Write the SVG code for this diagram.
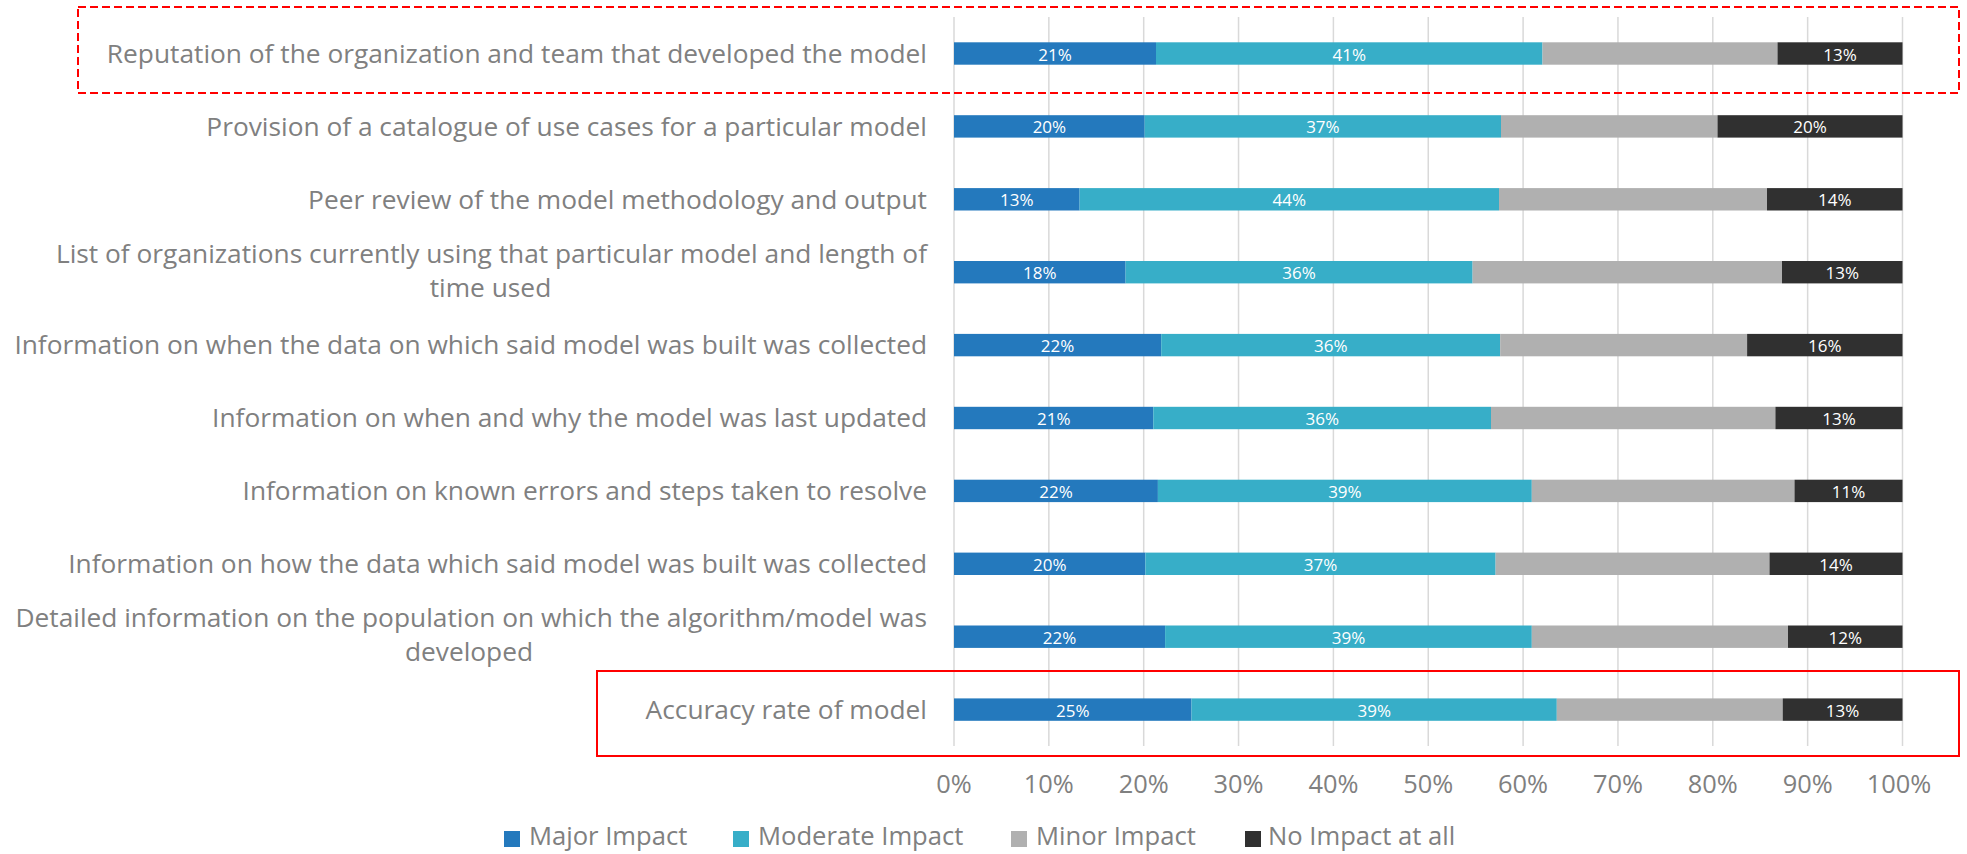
<svg xmlns="http://www.w3.org/2000/svg" width="1967" height="854" viewBox="0 0 1967 854">
<style>
.cat{font-family:"Open Sans","Liberation Sans",sans-serif;font-size:26.3px;fill:#808080;text-anchor:end}
.catm{font-family:"Open Sans","Liberation Sans",sans-serif;font-size:26.3px;fill:#808080;text-anchor:middle}
.ax{font-family:"Open Sans","Liberation Sans",sans-serif;font-size:25.4px;fill:#808080;text-anchor:middle}
.lg{font-family:"Open Sans","Liberation Sans",sans-serif;font-size:25.6px;fill:#808080}
.v{font-family:"Open Sans","Liberation Sans",sans-serif;font-size:17px;fill:#ffffff;text-anchor:middle}
.g{stroke:#d9d9d9;stroke-width:1.5}
.c1{fill:#2479bd}.c2{fill:#37aec8}.c3{fill:#b0b0b0}.c4{fill:#303030}
</style>
<rect width="1967" height="854" fill="#ffffff"/>
<g id="grid">
<line class="g" x1="954" y1="17" x2="954" y2="746"/>
<line class="g" x1="1048.85" y1="17" x2="1048.85" y2="746"/>
<line class="g" x1="1143.7" y1="17" x2="1143.7" y2="746"/>
<line class="g" x1="1238.55" y1="17" x2="1238.55" y2="746"/>
<line class="g" x1="1333.4" y1="17" x2="1333.4" y2="746"/>
<line class="g" x1="1428.25" y1="17" x2="1428.25" y2="746"/>
<line class="g" x1="1523.1" y1="17" x2="1523.1" y2="746"/>
<line class="g" x1="1617.95" y1="17" x2="1617.95" y2="746"/>
<line class="g" x1="1712.8" y1="17" x2="1712.8" y2="746"/>
<line class="g" x1="1807.65" y1="17" x2="1807.65" y2="746"/>
<line class="g" x1="1902.5" y1="17" x2="1902.5" y2="746"/>
</g>
<g id="axis">
<text class="ax" x="954" y="793">0%</text>
<text class="ax" x="1048.85" y="793">10%</text>
<text class="ax" x="1143.7" y="793">20%</text>
<text class="ax" x="1238.55" y="793">30%</text>
<text class="ax" x="1333.4" y="793">40%</text>
<text class="ax" x="1428.25" y="793">50%</text>
<text class="ax" x="1523.1" y="793">60%</text>
<text class="ax" x="1617.95" y="793">70%</text>
<text class="ax" x="1712.8" y="793">80%</text>
<text class="ax" x="1807.65" y="793">90%</text>
<text class="ax" x="1899" y="793">100%</text>
</g>
<g id="row1">
<text class="cat" x="927" y="62.8">Reputation of the organization and team that developed the model</text>
<rect class="c1" x="954" y="42.3" width="202" height="22.4"/>
<rect class="c2" x="1156" y="42.3" width="386.5" height="22.4"/>
<rect class="c3" x="1542.5" y="42.3" width="235" height="22.4"/>
<rect class="c4" x="1777.5" y="42.3" width="125" height="22.4"/>
<text class="v" x="1055" y="60.5">21%</text>
<text class="v" x="1349.2" y="60.5">41%</text>
<text class="v" x="1840" y="60.5">13%</text>
</g>
<g id="row2">
<text class="cat" x="927" y="135.7">Provision of a catalogue of use cases for a particular model</text>
<rect class="c1" x="954" y="115.2" width="190.7" height="22.4"/>
<rect class="c2" x="1144.7" y="115.2" width="356.3" height="22.4"/>
<rect class="c3" x="1501" y="115.2" width="216.5" height="22.4"/>
<rect class="c4" x="1717.5" y="115.2" width="185" height="22.4"/>
<text class="v" x="1049.4" y="133.4">20%</text>
<text class="v" x="1322.9" y="133.4">37%</text>
<text class="v" x="1810" y="133.4">20%</text>
</g>
<g id="row3">
<text class="cat" x="927" y="208.6">Peer review of the model methodology and output</text>
<rect class="c1" x="954" y="188.1" width="125.6" height="22.4"/>
<rect class="c2" x="1079.6" y="188.1" width="419.4" height="22.4"/>
<rect class="c3" x="1499" y="188.1" width="268" height="22.4"/>
<rect class="c4" x="1767" y="188.1" width="135.5" height="22.4"/>
<text class="v" x="1016.8" y="206.3">13%</text>
<text class="v" x="1289.3" y="206.3">44%</text>
<text class="v" x="1834.8" y="206.3">14%</text>
</g>
<g id="row4">
<text class="cat" x="927" y="262.5">List of organizations currently using that particular model and length of</text>
<text class="catm" x="490.5" y="296.9">time used</text>
<rect class="c1" x="954" y="261" width="171.6" height="22.4"/>
<rect class="c2" x="1125.6" y="261" width="347" height="22.4"/>
<rect class="c3" x="1472.6" y="261" width="309.4" height="22.4"/>
<rect class="c4" x="1782" y="261" width="120.5" height="22.4"/>
<text class="v" x="1039.8" y="279.2">18%</text>
<text class="v" x="1299.1" y="279.2">36%</text>
<text class="v" x="1842.3" y="279.2">13%</text>
</g>
<g id="row5">
<text class="cat" x="927" y="354.4">Information on when the data on which said model was built was collected</text>
<rect class="c1" x="954" y="333.9" width="207.2" height="22.4"/>
<rect class="c2" x="1161.2" y="333.9" width="339" height="22.4"/>
<rect class="c3" x="1500.2" y="333.9" width="246.9" height="22.4"/>
<rect class="c4" x="1747.1" y="333.9" width="155.4" height="22.4"/>
<text class="v" x="1057.6" y="352.1">22%</text>
<text class="v" x="1330.7" y="352.1">36%</text>
<text class="v" x="1824.8" y="352.1">16%</text>
</g>
<g id="row6">
<text class="cat" x="927" y="427.3">Information on when and why the model was last updated</text>
<rect class="c1" x="954" y="406.8" width="199.3" height="22.4"/>
<rect class="c2" x="1153.3" y="406.8" width="337.7" height="22.4"/>
<rect class="c3" x="1491" y="406.8" width="284.4" height="22.4"/>
<rect class="c4" x="1775.4" y="406.8" width="127.1" height="22.4"/>
<text class="v" x="1053.7" y="425">21%</text>
<text class="v" x="1322.2" y="425">36%</text>
<text class="v" x="1839" y="425">13%</text>
</g>
<g id="row7">
<text class="cat" x="927" y="500.2">Information on known errors and steps taken to resolve</text>
<rect class="c1" x="954" y="479.7" width="203.9" height="22.4"/>
<rect class="c2" x="1157.9" y="479.7" width="373.9" height="22.4"/>
<rect class="c3" x="1531.8" y="479.7" width="262.7" height="22.4"/>
<rect class="c4" x="1794.5" y="479.7" width="108" height="22.4"/>
<text class="v" x="1056" y="497.9">22%</text>
<text class="v" x="1344.9" y="497.9">39%</text>
<text class="v" x="1848.5" y="497.9">11%</text>
</g>
<g id="row8">
<text class="cat" x="927" y="573.1">Information on how the data which said model was built was collected</text>
<rect class="c1" x="954" y="552.6" width="191.4" height="22.4"/>
<rect class="c2" x="1145.4" y="552.6" width="350.2" height="22.4"/>
<rect class="c3" x="1495.6" y="552.6" width="273.9" height="22.4"/>
<rect class="c4" x="1769.5" y="552.6" width="133" height="22.4"/>
<text class="v" x="1049.7" y="570.8">20%</text>
<text class="v" x="1320.5" y="570.8">37%</text>
<text class="v" x="1836" y="570.8">14%</text>
</g>
<g id="row9">
<text class="cat" x="927" y="627">Detailed information on the population on which the algorithm/model was</text>
<text class="catm" x="469" y="661.4">developed</text>
<rect class="c1" x="954" y="625.5" width="211.1" height="22.4"/>
<rect class="c2" x="1165.1" y="625.5" width="366.7" height="22.4"/>
<rect class="c3" x="1531.8" y="625.5" width="256.2" height="22.4"/>
<rect class="c4" x="1788" y="625.5" width="114.5" height="22.4"/>
<text class="v" x="1059.6" y="643.7">22%</text>
<text class="v" x="1348.5" y="643.7">39%</text>
<text class="v" x="1845.3" y="643.7">12%</text>
</g>
<g id="row10">
<text class="cat" x="927" y="718.9">Accuracy rate of model</text>
<rect class="c1" x="954" y="698.4" width="237.5" height="22.4"/>
<rect class="c2" x="1191.5" y="698.4" width="365.3" height="22.4"/>
<rect class="c3" x="1556.8" y="698.4" width="225.9" height="22.4"/>
<rect class="c4" x="1782.7" y="698.4" width="119.8" height="22.4"/>
<text class="v" x="1072.8" y="716.6">25%</text>
<text class="v" x="1374.2" y="716.6">39%</text>
<text class="v" x="1842.6" y="716.6">13%</text>
</g>
<g id="highlights" fill="none" stroke="#ff0000" stroke-width="2">
<rect id="dashed-box" x="78" y="7" width="1881" height="86" stroke-dasharray="8,4"/>
<rect id="solid-box" x="597" y="671" width="1362" height="85"/>
</g>
<g id="legend">
<rect class="c1" x="504" y="831" width="16" height="16"/>
<text class="lg" x="529" y="845">Major Impact</text>
<rect class="c2" x="733" y="831" width="16" height="16"/>
<text class="lg" x="758" y="845">Moderate Impact</text>
<rect class="c3" x="1011" y="831" width="16" height="16"/>
<text class="lg" x="1036" y="845">Minor Impact</text>
<rect class="c4" x="1245" y="831" width="16" height="16"/>
<text class="lg" x="1268" y="845">No Impact at all</text>
</g>
</svg>
